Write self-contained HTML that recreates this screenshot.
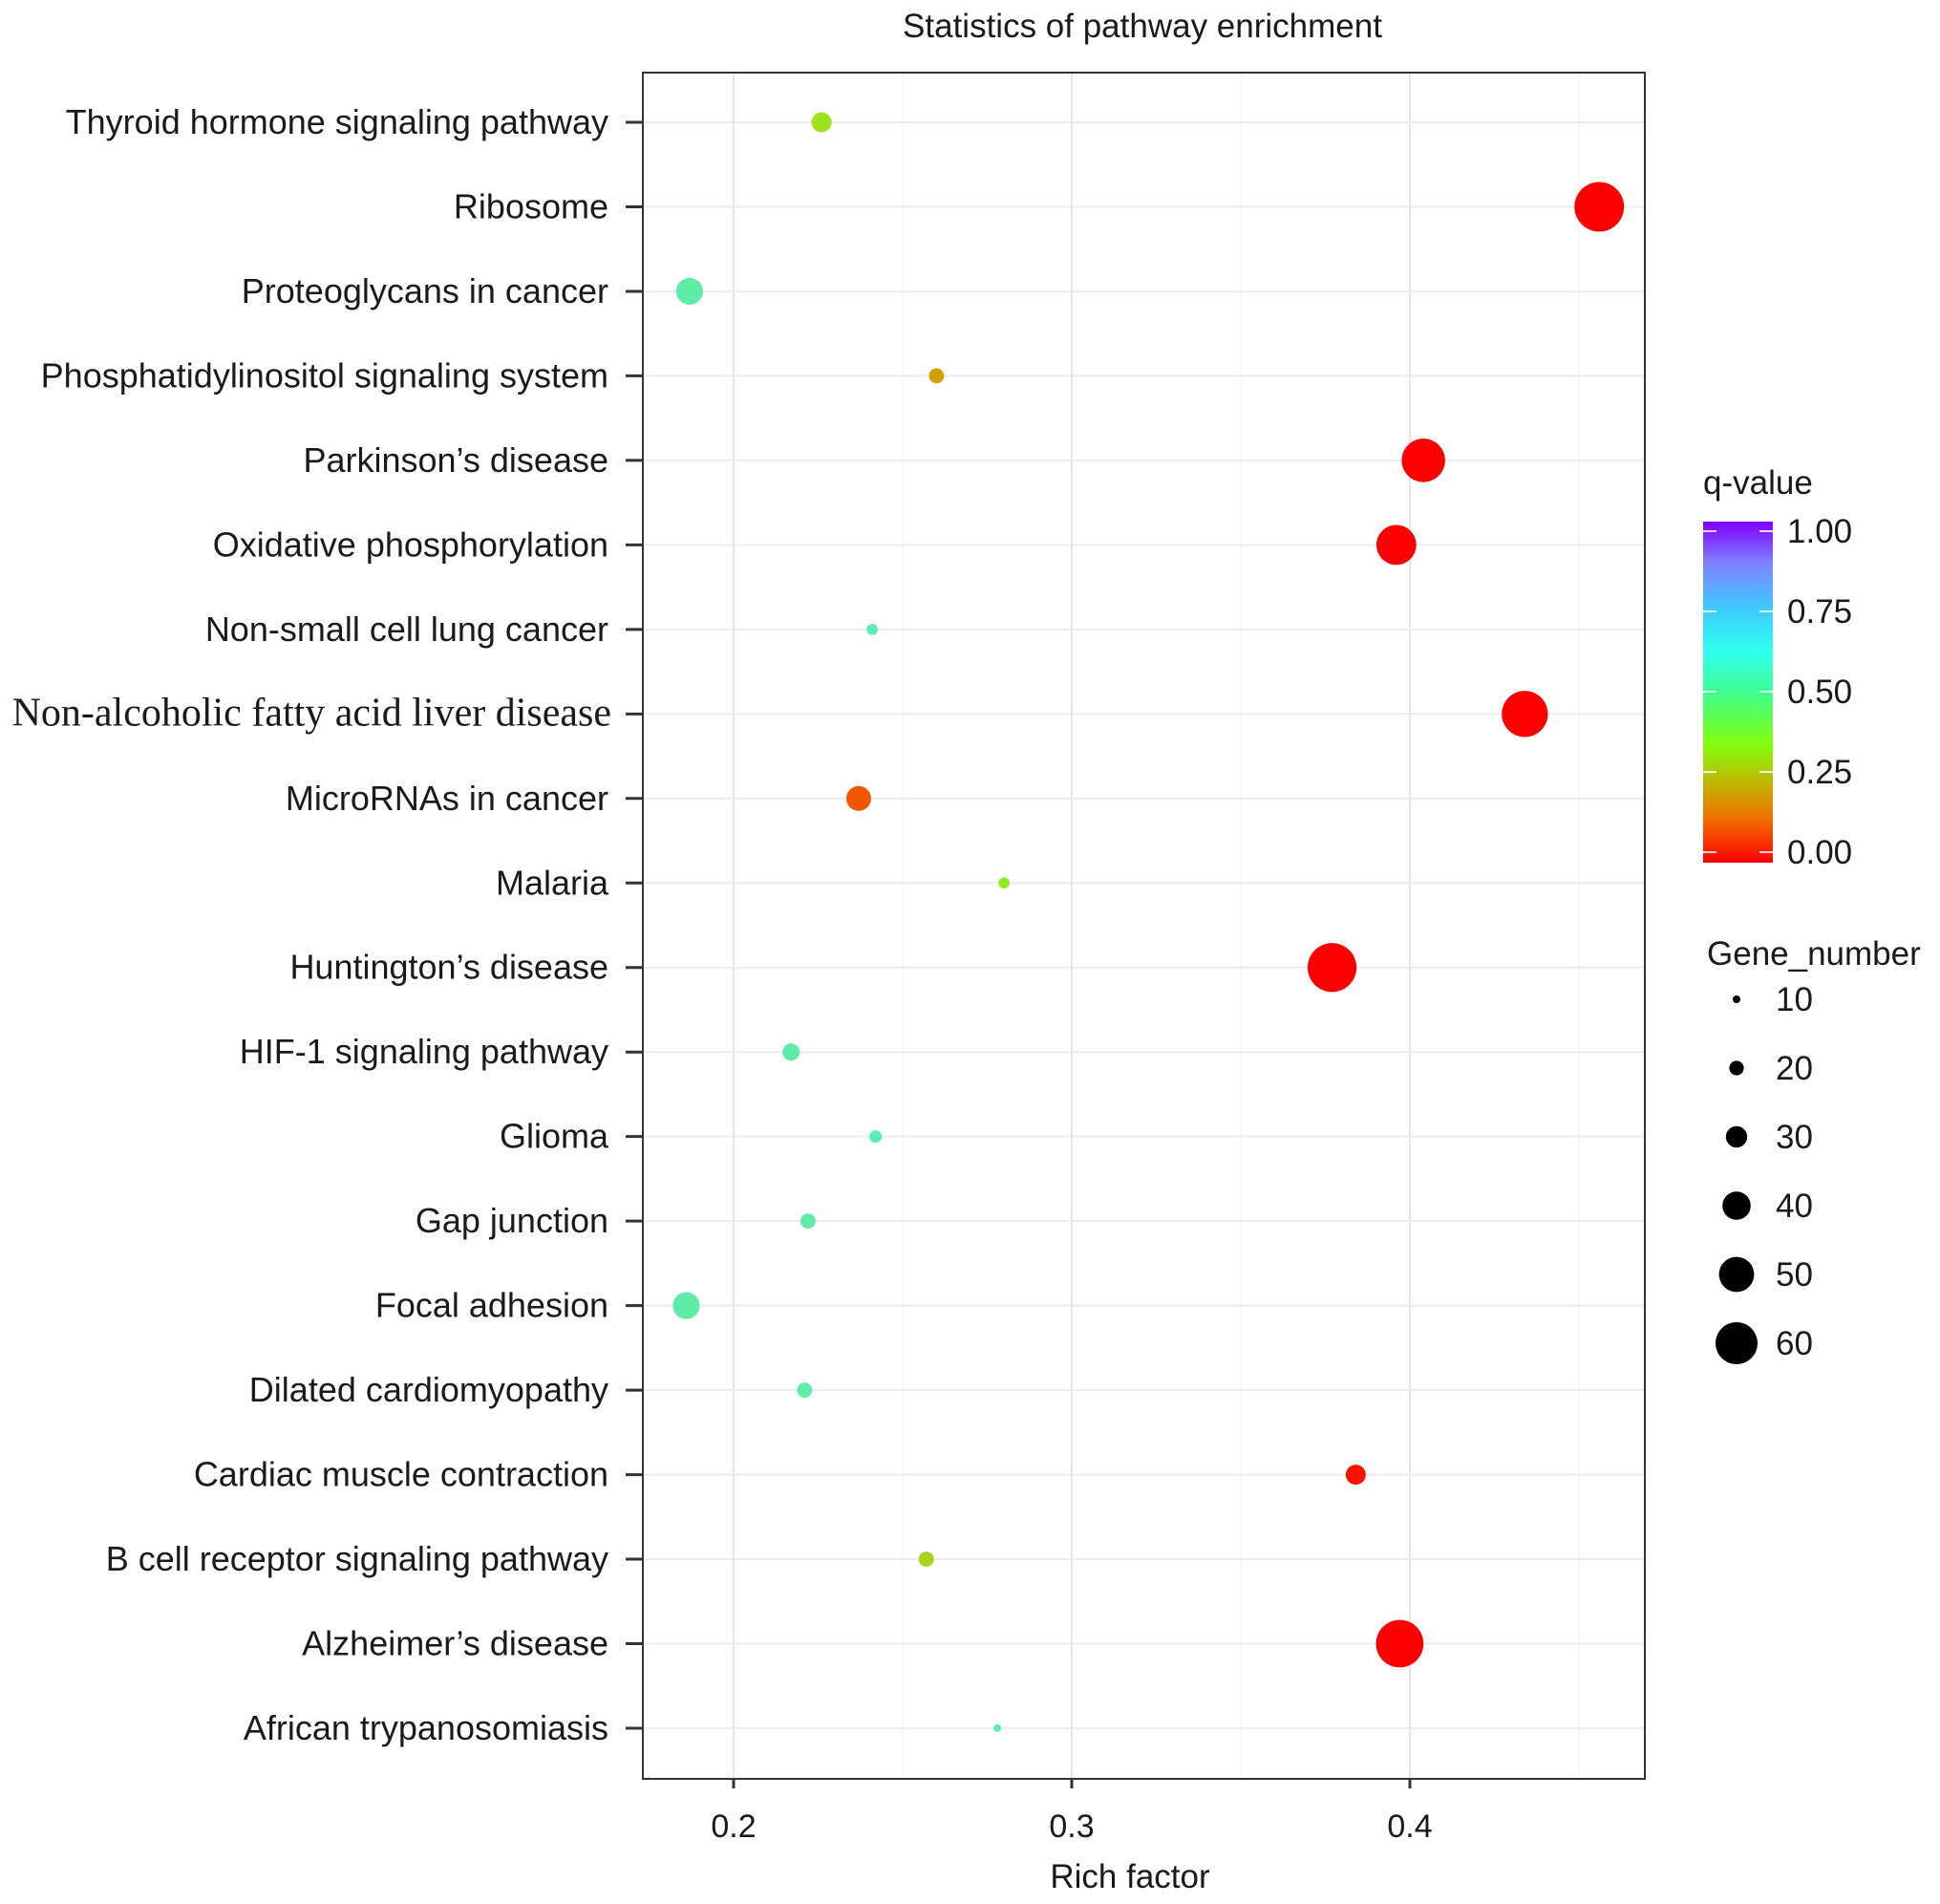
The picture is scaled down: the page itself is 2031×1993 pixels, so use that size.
<!DOCTYPE html>
<html><head><meta charset="utf-8"><style>
html,body{margin:0;padding:0;background:#fff;}
svg text{font-family:"Liberation Sans",sans-serif;fill:#1a1a1a;}
</style></head><body>
<svg id="chart" width="2031" height="1988" viewBox="0 0 2031 1988" xmlns="http://www.w3.org/2000/svg">
<defs>
<linearGradient id="qgrad" x1="0" y1="1" x2="0" y2="0">
<stop offset="0" stop-color="#ff0000"/>
<stop offset="0.13" stop-color="#f07000"/>
<stop offset="0.25" stop-color="#b8c000"/>
<stop offset="0.35" stop-color="#80ff10"/>
<stop offset="0.5" stop-color="#40ff90"/>
<stop offset="0.62" stop-color="#30fff0"/>
<stop offset="0.75" stop-color="#40c8ff"/>
<stop offset="0.88" stop-color="#8080ff"/>
<stop offset="1" stop-color="#8000ff"/>
</linearGradient>
</defs>
<text x="1196" y="39" font-size="35" text-anchor="middle">Statistics of pathway enrichment</text>
<g id="grid"></g>
<g id="points"></g>
<rect x="673" y="76" width="1049" height="1786" fill="none" stroke="#333" stroke-width="2"/>
<g id="axes"></g>
<text x="1183" y="1976" font-size="35" text-anchor="middle">Rich factor</text>
<g>
<text x="1783" y="517" font-size="35">q-value</text>
<rect x="1783" y="546" width="73" height="357" fill="url(#qgrad)"/>
<g id="cbticks"></g>
</g>
<g id="sizelegend">
<text x="1787" y="1010" font-size="35">Gene_number</text>
</g>
</svg>
<script>
const categories = ["Thyroid hormone signaling pathway","Ribosome","Proteoglycans in cancer","Phosphatidylinositol signaling system","Parkinson\u2019s disease","Oxidative phosphorylation","Non-small cell lung cancer","Non-alcoholic fatty acid liver disease","MicroRNAs in cancer","Malaria","Huntington\u2019s disease","HIF-1 signaling pathway","Glioma","Gap junction","Focal adhesion","Dilated cardiomyopathy","Cardiac muscle contraction","B cell receptor signaling pathway","Alzheimer\u2019s disease","African trypanosomiasis"];
const richFactor = [0.226,0.456,0.187,0.260,0.404,0.396,0.241,0.434,0.237,0.280,0.377,0.217,0.242,0.222,0.186,0.221,0.384,0.257,0.397,0.278];
const geneNumber = [28,71,38,21,62,57,15,66,35,15,70,24,17,21,38,21,28,21,68,10];
const qValue = [0.33,0,0.53,0.2,0,0,0.55,0,0.1,0.36,0,0.53,0.55,0.53,0.53,0.53,0.02,0.3,0,0.55];
const xTicks = [0.2,0.3,0.4];
const xTickLabels = ["0.2","0.3","0.4"];
const qTicks = [0,0.25,0.5,0.75,1];
const qTickLabels = ["0.00","0.25","0.50","0.75","1.00"];
const sizeBreaks = [10,20,30,40,50,60];

const NS="http://www.w3.org/2000/svg";
const px0=673, px1=1722, py0=76, py1=1862;
function xScale(v){return 768+(v-0.2)*3540;}
function yScale(i){return 128+i*(1809-128)/(categories.length-1);}
function rScale(n){return 0.36*n+0.4;}
function qY(q){return 892-q*(892-556);}
const stops=[[0,[255,0,0]],[0.13,[240,112,0]],[0.25,[190,190,20]],[0.35,[150,235,30]],[0.5,[100,235,150]],[0.62,[80,240,220]],[0.75,[64,200,255]],[0.88,[128,128,255]],[1,[128,0,255]]];
function qColor(q){
  for(let i=1;i<stops.length;i++){if(q<=stops[i][0]){const a=stops[i-1],b=stops[i];const t=(q-a[0])/(b[0]-a[0]);
    const c=a[1].map((v,k)=>Math.round(v+(b[1][k]-v)*t));
    return 'rgb('+c.join(',')+')';}}
  return 'rgb(128,0,255)';
}
function mk(tag,attrs,parent){const e=document.createElementNS(NS,tag);for(const k in attrs)e.setAttribute(k,attrs[k]);parent.appendChild(e);return e;}
const grid=document.getElementById('grid'), pts=document.getElementById('points'), axes=document.getElementById('axes');
for(let v=0.15;v<=0.5;v+=0.1){const x=xScale(v);if(x>px0&&x<px1){const l=mk('line',{x1:x,x2:x,y1:py0,y2:py1,stroke:'#f5f5f5','stroke-width':1.5},grid);

}}
xTicks.forEach((v,i)=>{const x=xScale(v);
const l=mk('line',{x1:x,x2:x,y1:py0,y2:py1,stroke:'#e6e6e6','stroke-width':2},grid);


const t=mk('line',{x1:x,x2:x,y1:py1,y2:py1+10,stroke:'#333','stroke-width':3},axes);


const tx=mk('text',{x:x,y:1923,'font-size':34,'text-anchor':'middle'},axes);tx.textContent=xTickLabels[i];


});
categories.forEach((c,i)=>{const y=yScale(i);
const l=mk('line',{x1:px0,x2:px1,y1:y,y2:y,stroke:'#ececec','stroke-width':2},grid);


const t=mk('line',{x1:655,x2:672,y1:y,y2:y,stroke:'#333','stroke-width':3},axes);


const serif=c.startsWith('Non-alcoholic');
const tx=mk('text',{x:serif?640:637,y:y+12,'font-size':serif?42:36,'text-anchor':'end'},axes);
if(serif)tx.setAttribute('style','font-family:"Liberation Serif",serif');
tx.textContent=c;


const p=mk('circle',{cx:xScale(richFactor[i]),cy:y,r:rScale(geneNumber[i]),fill:qColor(qValue[i])},pts);


});
const cb=document.getElementById('cbticks');
qTicks.forEach((q,i)=>{const y=qY(q);
const a=mk('line',{x1:1783,x2:1797,y1:y,y2:y,stroke:'#fff','stroke-width':2,opacity:0.8},cb);


const b=mk('line',{x1:1842,x2:1856,y1:y,y2:y,stroke:'#fff','stroke-width':2,opacity:0.8},cb);


const t=mk('text',{x:1871,y:y+12,'font-size':35},cb);t.textContent=qTickLabels[i];


});
const sl=document.getElementById('sizelegend');
sizeBreaks.forEach((n,i)=>{const y=1046+i*72;
const c=mk('circle',{cx:1818,cy:y,r:rScale(n),fill:'#000'},sl);


const t=mk('text',{x:1859,y:y+12,'font-size':35},sl);t.textContent=n;


});
</script>
</body></html>
